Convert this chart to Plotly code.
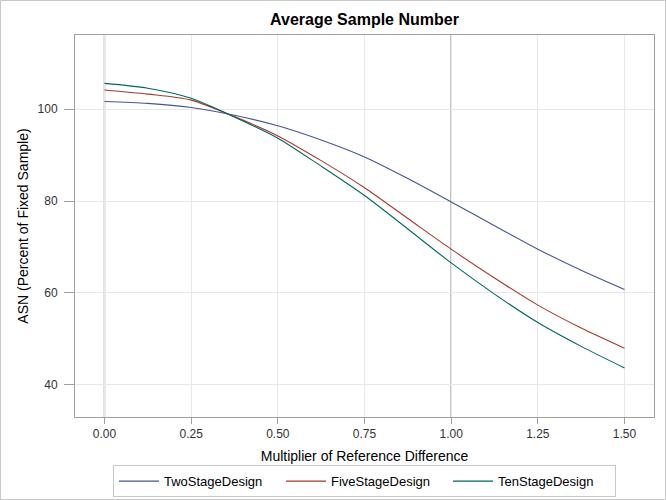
import plotly.graph_objects as go

multiplier = [0, 0.125, 0.25, 0.375, 0.5, 0.625, 0.75, 0.875, 1.0, 1.125, 1.25, 1.375, 1.5]
two_stage = [101.7, 101.3, 100.4, 98.7, 96.4, 93.3, 89.6, 84.9, 79.8, 74.6, 69.5, 64.9, 60.7]
five_stage = [104.2, 103.3, 102.0, 98.4, 94.2, 88.8, 82.9, 76.2, 69.5, 63.2, 57.3, 52.3, 47.9]
ten_stage = [105.65, 104.6, 102.4, 98.3, 93.7, 87.6, 81.2, 73.9, 66.5, 59.7, 53.5, 48.3, 43.6]
series_names = ["TwoStageDesign", "FiveStageDesign", "TenStageDesign"]
ref_lines = [0, 1]

colors = ["#445694", "#A23A2E", "#01665E"]
font = "Liberation Sans, Arial, sans-serif"

fig = go.Figure()
for name, ys, c in zip(series_names, [two_stage, five_stage, ten_stage], colors):
    fig.add_trace(go.Scatter(x=multiplier, y=ys, mode="lines", name=name,
                             line=dict(color=c, width=1.1, shape="spline", smoothing=0.8)))

shapes = []
for r in ref_lines:
    shapes.append(dict(type="line", xref="x", yref="paper", x0=r, x1=r, y0=0, y1=1,
                       line=dict(color="#999999", width=1.5), layer="below"))
# outer border
W, H = 666, 500
L, R, T, B = 75, 12, 35, 83
pw, ph = W - L - R, H - T - B
shapes.append(dict(type="rect", xref="paper", yref="paper",
                   x0=(-L + 0.5) / pw, x1=(pw + R - 0.5) / pw,
                   y0=(-B + 0.5) / ph, y1=(ph + T - 0.5) / ph,
                   line=dict(color="#c8c8c8", width=1), fillcolor="rgba(0,0,0,0)"))

fig.update_layout(
    template="none",
    width=W, height=H,
    margin=dict(l=L, r=R, t=T, b=B, autoexpand=False),
    paper_bgcolor="white", plot_bgcolor="white",
    font=dict(family=font, size=12, color="#000"),
    title=dict(text="<b>Average Sample Number</b>", x=(L + pw / 2) / W, xanchor="center",
               y=1 - 19 / H, yanchor="middle", font=dict(size=16, family=font)),
    xaxis=dict(range=[-0.085, 1.585], dtick=0.25, tick0=0, tickformat=".2f",
               showgrid=True, gridcolor="#e8e8e8", gridwidth=1, automargin=False,
               zeroline=False, showline=True, linecolor="#a0a0a0", linewidth=1, mirror=True,
               ticks="outside", ticklen=6, tickcolor="#a0a0a0",
               title=dict(text="Multiplier of Reference Difference", font=dict(size=14), standoff=10),
               tickfont=dict(size=12, color="#333")),
    yaxis=dict(range=[32.9, 116.2], dtick=20, tick0=0,
               showgrid=True, gridcolor="#e8e8e8", gridwidth=1, automargin=False,
               zeroline=False, showline=True, linecolor="#a0a0a0", linewidth=1, mirror=True,
               ticks="outside", ticklen=10, ticklabelstandoff=4, tickcolor="#a0a0a0",
               title=dict(text="ASN (Percent of Fixed Sample)", font=dict(size=14), standoff=5),
               tickfont=dict(size=12, color="#333")),
    legend=dict(orientation="h", x=0.5, xanchor="center", y=-0.126, yanchor="top",
                bordercolor="#c8c8c8", borderwidth=1, font=dict(size=13),
                itemwidth=40, entrywidth=112, tracegroupgap=0),
    shapes=shapes,
    showlegend=True,
)

fig.write_html("out.html", config={"displayModeBar": False},
               post_script="document.body.style.margin='0';document.body.style.overflow='hidden';")
